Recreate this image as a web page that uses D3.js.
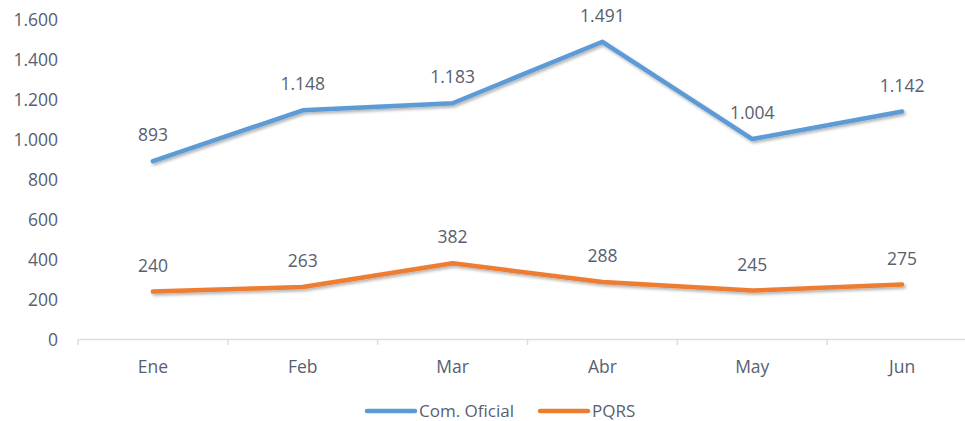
<!DOCTYPE html>
<html>
<head>
<meta charset="utf-8">
<script src="https://cdn.jsdelivr.net/npm/d3@7"></script>
<style>
  body { margin: 0; background: #fff; }
  svg text { font-family: "Open Sans", sans-serif; fill: #586070; }
</style>
</head>
<body>
<svg id="chart" width="965" height="421"></svg>
<script>
const months = ["Ene", "Feb", "Mar", "Abr", "May", "Jun"];
const comOficial = [893, 1148, 1183, 1491, 1004, 1142];
const pqrs = [240, 263, 382, 288, 245, 275];
const yTicks = [0, 200, 400, 600, 800, 1000, 1200, 1400, 1600];

const series = [
  { name: "Com. Oficial", values: comOficial, color: "#5b9bd5" },
  { name: "PQRS", values: pqrs, color: "#ed7d31" }
];

const svg = d3.select("#chart");
const fmt = v => d3.format(",")(v).replace(/,/g, ".");
const fs = 17.5;

const x = d3.scaleBand().domain(months).range([78, 977]);
const y = d3.scaleLinear().domain([0, 1600]).range([339.5, 20]);

const defs = svg.append("defs");
const f = defs.append("filter").attr("id", "shadow")
  .attr("x", "-10%").attr("y", "-50%").attr("width", "120%").attr("height", "200%");
f.append("feDropShadow").attr("dx", 1.5).attr("dy", 2).attr("stdDeviation", 1.5)
  .attr("flood-color", "#000").attr("flood-opacity", 0.3);

// y labels
svg.append("g").selectAll("text").data(yTicks).enter().append("text")
  .attr("x", 58).attr("y", d => y(d)).attr("dy", "0.35em")
  .attr("text-anchor", "end").attr("font-size", fs)
  .text(fmt);

// x axis
const xg = svg.append("g");
xg.append("line").attr("x1", 78).attr("x2", 977).attr("y1", 339.5).attr("y2", 339.5)
  .attr("stroke", "#d9dde5").attr("stroke-width", 1.5);
xg.selectAll(".tk").data(d3.range(7)).enter().append("line")
  .attr("x1", i => 78 + i * x.bandwidth()).attr("x2", i => 78 + i * x.bandwidth())
  .attr("y1", 339.5).attr("y2", 345)
  .attr("stroke", "#d9dde5").attr("stroke-width", 1.5);
xg.selectAll("text").data(months).enter().append("text")
  .attr("x", d => x(d) + x.bandwidth() / 2).attr("y", 367).attr("dy", "0.35em")
  .attr("text-anchor", "middle").attr("font-size", fs).text(d => d);

const line = d3.line()
  .x((d, i) => x(months[i]) + x.bandwidth() / 2)
  .y(d => y(d));

series.forEach(s => {
  svg.append("path").datum(s.values)
    .attr("d", line).attr("fill", "none")
    .attr("stroke", s.color).attr("stroke-width", 4.5)
    .attr("stroke-linecap", "round").attr("stroke-linejoin", "round")
    .attr("filter", "url(#shadow)");
  svg.append("g").selectAll("text").data(s.values).enter().append("text")
    .attr("x", (d, i) => x(months[i]) + x.bandwidth() / 2)
    .attr("y", d => y(d) - 26).attr("dy", "0.35em")
    .attr("text-anchor", "middle").attr("font-size", fs)
    .text(fmt);
});

// legend
const legend = svg.append("g");
const legendX = [367, 540];
series.forEach((s, i) => {
  legend.append("line")
    .attr("x1", legendX[i]).attr("x2", legendX[i] + 48)
    .attr("y1", 411).attr("y2", 411)
    .attr("stroke", s.color).attr("stroke-width", 4.5).attr("stroke-linecap", "round");
  legend.append("text").attr("x", legendX[i] + 52).attr("y", 411).attr("dy", "0.35em")
    .attr("font-size", fs - 0.5).text(s.name);
});
</script>
</body>
</html>
